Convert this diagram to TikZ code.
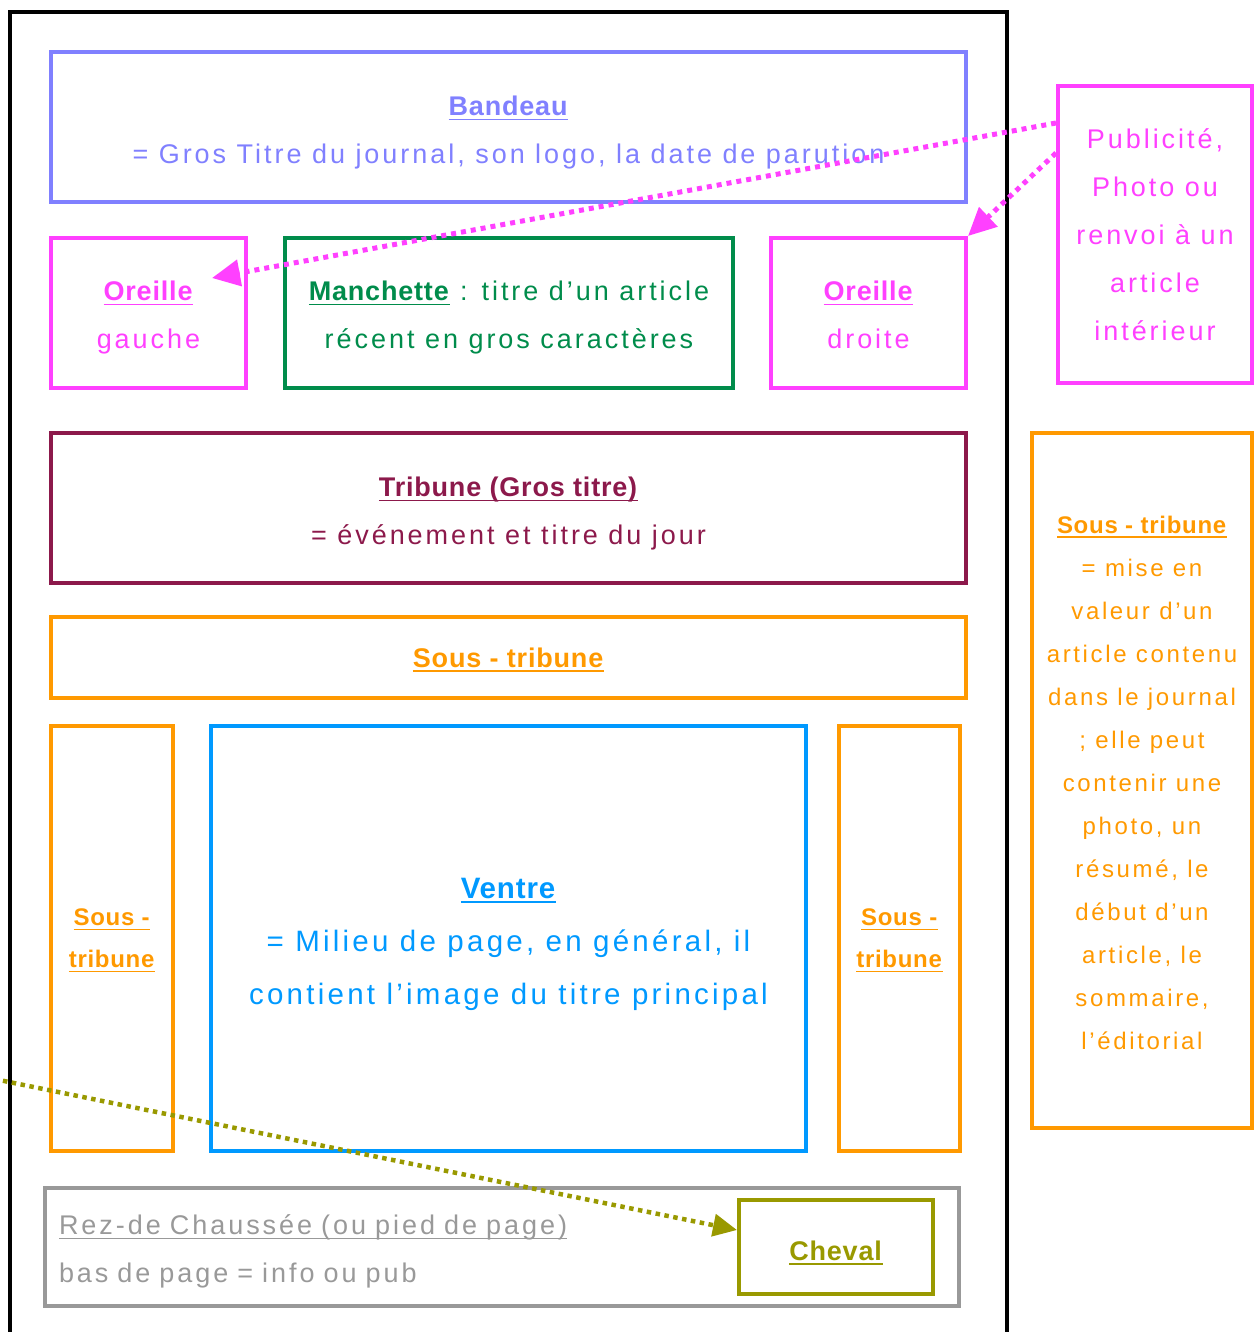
\documentclass[tikz,border=0pt]{standalone}
\usepackage{fontspec}
\setmainfont{Liberation Sans}[LetterSpace=11, BoldFeatures={LetterSpace=3}]
\usepackage{xcolor}
\usepackage{tikz}
\usetikzlibrary{arrows.meta}

\definecolor{bandeaubleu}{RGB}{128,128,255}
\definecolor{rose}{RGB}{255,64,255}
\definecolor{vert}{RGB}{0,140,75}
\definecolor{bordeaux}{RGB}{140,25,75}
\definecolor{soustrib}{RGB}{255,153,0}
\definecolor{ventrebleu}{RGB}{0,153,255}
\definecolor{gris}{RGB}{153,153,153}
\definecolor{chevalolive}{RGB}{153,153,0}

\newcommand{\souligne}[1]{\setbox0\hbox{#1}\leavevmode\rlap{\smash{\rule[-4.5pt]{\wd0}{1.3pt}}}\box0\relax}
\newcommand{\titre}[1]{\souligne{\textbf{#1}}}
\newcommand{\cale}[1]{\rule{0pt}{#1}}

\begin{document}
\begin{tikzpicture}[x=1pt, y=-1pt,
  every node/.style={font=\fontsize{27}{48}\selectfont},
  bloc/.style={draw, line width=4pt, align=center, inner sep=0pt, text depth=-7pt},
  rosebox/.style={bloc, draw=rose, text=rose},
  orbox/.style={bloc, draw=soustrib, text=soustrib},
  petit/.style={font=\fontsize{24}{42}\selectfont},
  fleche/.style={line width=5pt, dash pattern=on 5pt off 5pt,
                 -{Triangle[length=28pt,width=26pt]}},
  flechecheval/.style={line width=4.5pt, dash pattern=on 4.5pt off 4.5pt,
                 -{Triangle[length=24pt,width=22pt]}}
]
\path[use as bounding box, clip] (0,0) rectangle (1259,1332);

\node[draw, line width=4.5pt, inner sep=0pt, minimum width=997,
      minimum height=1400] (page) at (508.5,712) {};

\node[bloc, draw=bandeaubleu, text=bandeaubleu, minimum width=915,
      minimum height=150] (bandeau) at (508.5,127)
  {\cale{25pt}\titre{Bandeau}\\= Gros Titre du journal, son logo, la date de parution};

\node[rosebox, minimum width=195, minimum height=150] (oreilleg)
  at (148.5,313) {\cale{23pt}\titre{Oreille}\\gauche};
\node[bloc, draw=vert, text=vert, minimum width=448, minimum height=150]
  (manchette) at (509,313)
  {\cale{23pt}\titre{Manchette} : titre d’un article\\récent en gros caractères};
\node[rosebox, minimum width=195, minimum height=150] (oreilled)
  at (868.5,313) {\cale{23pt}\titre{Oreille}\\droite};
\node[rosebox, minimum width=194, minimum height=297, text depth=-2pt] (pub)
  at (1155,234.5)
  {Publicité,\\Photo ou\\renvoi à un\\article\\intérieur};

\node[bloc, draw=bordeaux, text=bordeaux, minimum width=915,
      minimum height=150] (tribune) at (508.5,508)
  {\cale{25pt}\titre{Tribune (Gros titre)}\\= événement et titre du jour};
\node[orbox, minimum width=915, minimum height=81] (soustribh) at (508.5,657.5)
  {\titre{Sous - tribune}};

\node[orbox, petit, minimum width=122, minimum height=425] (soustribg) at (112,938.5)
  {\titre{Sous -}\\\titre{tribune}};
\node[bloc, draw=ventrebleu, text=ventrebleu, minimum width=595,
      minimum height=425, font=\fontsize{29.5}{53}\selectfont] (ventre)
  at (508.5,938.5)
  {\cale{25.5pt}\titre{Ventre}\\= Milieu de page, en général, il\\contient l’image du titre principal};
\node[orbox, petit, minimum width=121, minimum height=425] (soustribd) at (899.5,938.5)
  {\titre{Sous -}\\\titre{tribune}};

\node[orbox, minimum width=220, minimum height=695,
      font=\fontsize{24}{43}\selectfont] (soustribx) at (1142,780.5)
  {\cale{21.5pt}\titre{Sous - tribune}\\= mise en\\valeur d’un\\article contenu\\dans le journal\\; elle peut\\contenir une\\photo, un\\résumé, le\\début d’un\\article, le\\sommaire,\\l’éditorial};

\node[bloc, draw=gris, text=gris, align=left, text width=886, inner xsep=14pt,
      minimum height=118, text depth=45pt] (rez) at (502,1247)
  {\souligne{Rez-de Chaussée (ou pied de page)}\\bas de page = info ou pub};
\node[bloc, draw=chevalolive, text=chevalolive, minimum width=194,
      minimum height=94] (cheval) at (836,1247) {\cale{26pt}\titre{Cheval}};

\coordinate (depart) at (-50,1070);

\draw[fleche, rose] ([yshift=-39pt]pub.north west)
  -- ([shift={(-36pt,35pt)}]oreilleg.east);
\draw[fleche, rose] ([yshift=-69pt]pub.north west) -- (oreilled.north east);
\draw[flechecheval, chevalolive] (depart) -- ([yshift=17pt]cheval.west);
\end{tikzpicture}
\end{document}
